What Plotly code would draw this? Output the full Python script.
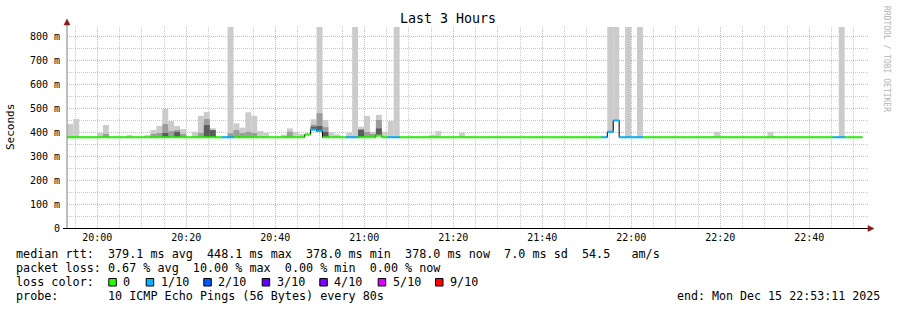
import plotly.graph_objects as go
from datetime import datetime, timedelta

# ---------------- data ----------------
STEP_S = 80
N_STEPS = 134
end_time = datetime(2025, 12, 15, 22, 53, 11)
start_time = end_time - timedelta(hours=3)
first_step = datetime(2025, 12, 15, 19, 53, 16)

base_median = 378.0
median_steps = [40, 41, 42, 52, 91, 92]
median_vals = [389, 410, 404, 385, 401, 448.1]

loss1_steps = [26, 27, 41, 42, 47, 48, 54, 55, 90, 91, 92, 93, 94, 95, 96, 129, 130]

smoke_steps = [0, 1, 5, 6, 10, 13, 14, 15, 16, 17, 18, 19, 21, 22, 23, 24, 27, 28, 29, 30,
               31, 32, 33, 36, 37, 38, 39, 40, 41, 42, 43, 44, 45, 47, 48, 49, 50, 51, 52, 53,
               54, 55, 61, 62, 66, 91, 92, 94, 96, 109, 118, 130]
smoke_max = [433, 454, 396, 429, 387, 387, 408, 425, 496, 446, 425, 412, 401, 467, 483, 416, 850, 436, 418, 482,
             467, 404, 397, 389, 415, 401, 392, 394, 453, 850, 450, 399, 390, 397, 850, 422, 467, 401, 471, 401,
             446, 850, 389, 404, 397, 850, 850, 850, 850, 401, 401, 850]
smoke_mid = [None, None, None, 392, None, None, 392, 396, 433, 404, 408, 392, None, 396, 454, 408, 395, 408, 396, 401,
             396, None, None, None, 401, None, None, None, 430, 478, 420, None, None, None, None, 404, 400, 392, 450, None,
             None, None, None, None, None, None, None, None, None, None, None, None]
smoke_core = [None, None, None, None, None, None, None, None, 396, None, 400, None, None, None, 429, 408, None, None, None, None,
              None, None, None, None, None, None, None, None, 422, 425, 400, None, None, None, None, 410, None, None, 415, None,
              None, None, None, None, None, None, None, None, None, None, None, None]

x_tick_labels = ["20:00", "20:20", "20:40", "21:00", "21:20", "21:40", "22:00", "22:20", "22:40"]
y_tick_vals = [0, 100, 200, 300, 400, 500, 600, 700, 800]
y_tick_text = ["0", "100 m", "200 m", "300 m", "400 m", "500 m", "600 m", "700 m", "800 m"]

loss_labels = ["0", "1/10", "2/10", "3/10", "4/10", "5/10", "9/10"]
loss_colors = ["#26ff00", "#00b8ff", "#0059ff", "#5e00ff", "#7e00ff", "#dd00ff", "#ff0000"]

stats_lines = [
    "median rtt:  379.1 ms avg  448.1 ms max  378.0 ms min  378.0 ms now  7.0 ms sd  54.5   am/s",
    "packet loss: 0.67 % avg  10.00 % max  0.00 % min  0.00 % now",
    "loss color:",
    "probe:       10 ICMP Echo Pings (56 Bytes) every 80s",
]
end_label = "end: Mon Dec 15 22:53:11 2025"
title_text = "Last 3 Hours"
watermark = "RRDTOOL / TOBI OETIKER"

# ---------------- derived ----------------
W, H = 897, 310
L, R, T, B = 67, 29, 27, 82
PW, PH = W - L - R, H - T - B


def px(x):
    return (x - L) / PW


def py(y):
    return (H - B - y) / PH


MONO = "DejaVu Sans Mono"

median = [base_median] * N_STEPS
for s, v in zip(median_steps, median_vals):
    median[s] = v
loss = [0] * N_STEPS
for s in loss1_steps:
    loss[s] = 1


def step_left(k):
    return first_step + timedelta(seconds=STEP_S * k)


def step_center(k):
    return first_step + timedelta(seconds=STEP_S * k + STEP_S / 2)


fig = go.Figure()

# smoke layers
for tops, col in [(smoke_max, "#cbcbcb"), (smoke_mid, "#9c9c9c"), (smoke_core, "#5c5c5c")]:
    xs, ys, bs = [], [], []
    for k, t in zip(smoke_steps, tops):
        if t is None:
            continue
        b = median[k]
        xs.append(step_center(k))
        ys.append(max(t - b, 0))
        bs.append(b)
    fig.add_trace(go.Bar(x=xs, y=ys, base=bs, width=STEP_S * 1000,
                         marker=dict(color=col, line=dict(width=0)), hoverinfo="skip"))

# black step outline of median
bx, by = [], []
for k in range(N_STEPS):
    bx += [step_left(k), step_left(k + 1)]
    by += [median[k], median[k]]
fig.add_trace(go.Scatter(x=bx, y=by, mode="lines", line=dict(color="#000000", width=1),
                         hoverinfo="skip"))

# coloured median segments
for li, col in enumerate(loss_colors):
    sx, sy = [], []
    for k in range(N_STEPS):
        if loss[k] == li:
            sx += [step_left(k), step_left(k + 1), None]
            sy += [median[k], median[k], None]
    if sx:
        fig.add_trace(go.Scatter(x=sx, y=sy, mode="lines", line=dict(color=col, width=2),
                                 hoverinfo="skip"))

tick_vals_x = [datetime(2025, 12, 15, 20, 0) + timedelta(minutes=20 * i) for i in range(len(x_tick_labels))]

grid_major = "#f2aaaa"
grid_minor = "#cacaca"
dash = "1px,1px"

fig.update_layout(
    width=W, height=H,
    margin=dict(l=L, r=R, t=T, b=B, pad=0),
    paper_bgcolor="#ffffff", plot_bgcolor="#ffffff",
    showlegend=False, hovermode=False, barmode="overlay",
    font=dict(family=MONO, color="#000000"),
    xaxis=dict(type="date", range=[start_time, end_time], tickmode="array",
               tickvals=tick_vals_x, ticktext=x_tick_labels,
               tickfont=dict(family=MONO, size=10, color="#000000"),
               showgrid=True, gridcolor=grid_major, griddash=dash, gridwidth=1,
               showline=False, zeroline=False, ticks="", ticklabelstandoff=2,
               minor=dict(tickmode="linear", tick0="2025-12-15 20:00:00", dtick=300000,
                          showgrid=True, gridcolor=grid_minor, griddash=dash, gridwidth=1),
               fixedrange=True),
    yaxis=dict(range=[0, 837.5], tickmode="array",
               tickvals=y_tick_vals, ticktext=y_tick_text,
               tickfont=dict(family=MONO, size=10, color="#000000"),
               showgrid=True, gridcolor=grid_major, griddash=dash, gridwidth=1,
               showline=False, zeroline=False, ticks="", ticklabelstandoff=6,
               minor=dict(tickmode="linear", tick0=0, dtick=50,
                          showgrid=True, gridcolor=grid_minor, griddash=dash, gridwidth=1),
               fixedrange=True),
)

shapes = []
# axes lines
shapes.append(dict(type="line", xref="paper", yref="paper", x0=px(67), x1=px(67), y0=py(228), y1=py(22),
                   line=dict(color="#808080", width=1)))
shapes.append(dict(type="line", xref="paper", yref="paper", x0=px(63), x1=px(869), y0=py(228.5), y1=py(228.5),
                   line=dict(color="#000000", width=1)))
# arrows
shapes.append(dict(type="path", xref="paper", yref="paper",
                   path=f"M {px(64)} {py(25)} L {px(70)} {py(25)} L {px(67)} {py(19)} Z",
                   fillcolor="#8b1a1a", line=dict(color="#8b1a1a", width=0.5)))
shapes.append(dict(type="path", xref="paper", yref="paper",
                   path=f"M {px(868)} {py(225.5)} L {px(868)} {py(231.5)} L {px(874)} {py(228.5)} Z",
                   fillcolor="#8b1a1a", line=dict(color="#8b1a1a", width=0.5)))

# loss color boxes
label_px = [123.3, 160.7, 218.3, 276.7, 334.3, 392.7, 450.0]
for lx, col in zip(label_px, loss_colors):
    shapes.append(dict(type="rect", xref="paper", yref="paper",
                       x0=px(lx - 14.5), x1=px(lx - 7), y0=py(286), y1=py(278.5),
                       fillcolor=col, line=dict(color="#000000", width=1)))
fig.update_layout(shapes=shapes)

NB = "\u00a0"
ann = []
ann.append(dict(text=title_text, x=px(448), y=py(19), xref="paper", yref="paper",
                xanchor="center", yanchor="middle", showarrow=False,
                font=dict(family=MONO, size=13.3, color="#000000")))
ann.append(dict(text="Seconds", x=px(11), y=py(127), xref="paper", yref="paper", textangle=-90,
                xanchor="center", yanchor="middle", showarrow=False,
                font=dict(family=MONO, size=11, color="#000000")))
ann.append(dict(text=watermark.replace(" ", NB), x=px(887), y=py(59), xref="paper", yref="paper", textangle=90,
                xanchor="center", yanchor="middle", showarrow=False,
                font=dict(family=MONO, size=8, color="#b4b4b4")))
row_y = [254, 268, 282, 296]
for txt, ry in zip(stats_lines, row_y):
    ann.append(dict(text=txt.replace(" ", NB), x=px(14), y=py(ry), xref="paper", yref="paper",
                    xanchor="left", yanchor="middle", showarrow=False,
                    font=dict(family=MONO, size=11.75, color="#000000")))
for lx, lab in zip(label_px, loss_labels):
    ann.append(dict(text=lab, x=px(lx - 2), y=py(282), xref="paper", yref="paper",
                    xanchor="left", yanchor="middle", showarrow=False,
                    font=dict(family=MONO, size=11.75, color="#000000")))
ann.append(dict(text=end_label.replace(" ", NB), x=px(882), y=py(296), xref="paper", yref="paper",
                xanchor="right", yanchor="middle", showarrow=False,
                font=dict(family=MONO, size=11.65, color="#000000")))
fig.update_layout(annotations=ann)

fig.write_html("out.html")
